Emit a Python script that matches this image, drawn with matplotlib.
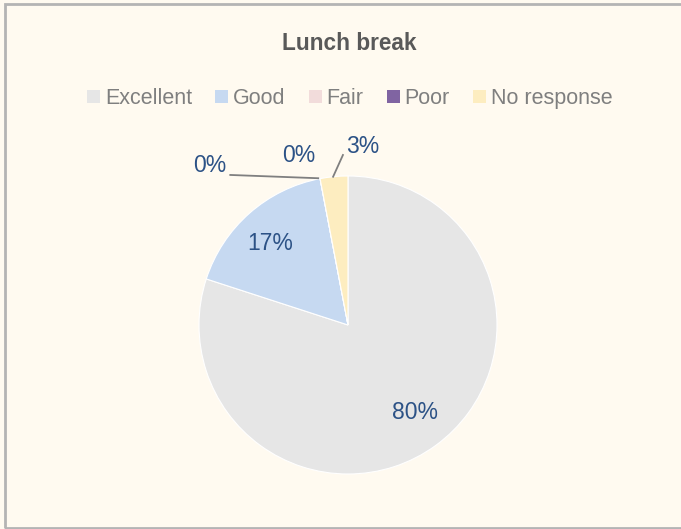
import numpy as np
import matplotlib.pyplot as plt
from matplotlib.patches import Rectangle

categories = ["Excellent", "Good", "Fair", "Poor", "No response"]
values = [80, 17, 0, 0, 3]
colors = ["#e6e6e6", "#c6d9f1", "#f2dcdb", "#8064a2", "#fdedc0"]
title = "Lunch break"

plt.rcParams['font.family'] = ['Liberation Sans', 'DejaVu Sans']
label_color = "#2c5286"
bg = "#fffaf0"

W, H = 681, 529
fig = plt.figure(figsize=(6.81, 5.29), dpi=100, facecolor=bg)
# pie axes: centre (348, 325), radius 149 px
cx, cy, r = 348, 325, 149
ax = fig.add_axes([(cx - r) / W, 1 - (cy + r) / H, 2 * r / W, 2 * r / H])
ax.set_facecolor(bg)

wedges, _ = ax.pie(values, colors=colors, startangle=90, counterclock=False,
                   radius=1.0, wedgeprops=dict(linewidth=0.8, edgecolor="white"))
ax.set_xlim(-1, 1)
ax.set_ylim(-1, 1)
ax.set_aspect("equal")

total = float(sum(values))
pct = [v / total * 100 for v in values]

# labels for the two big slices sit inside
for i, (dx, dy) in {0: (0.45, -0.59), 1: (-0.52, 0.55)}.items():
    ax.text(dx, dy, "%d%%" % round(pct[i]), ha="center", va="center",
            fontsize=16.5, color=label_color)

# small slices: labels outside with leader lines
ax.text(-0.93, 1.07, "%d%%" % round(pct[2]), ha="center", va="center",
        fontsize=16.5, color=label_color)
ax.plot([-0.79, -0.20], [1.007, 0.985], color="#7f7f7f", lw=1.3, clip_on=False)
ax.text(-0.33, 1.14, "%d%%" % round(pct[3]), ha="center", va="center",
        fontsize=16.5, color=label_color)
ax.text(0.10, 1.20, "%d%%" % round(pct[4]), ha="center", va="center",
        fontsize=16.5, color=label_color)
ax.plot([-0.034, -0.10], [1.141, 0.995], color="#7f7f7f", lw=1.3, clip_on=False)

fig.text(349 / W, 1 - 50 / H, title, ha="center", va="baseline", fontsize=16.3,
         fontweight="bold", color="#595959")

# legend drawn by hand so all labels share one baseline
renderer = fig.canvas.get_renderer()
x = 87
for cat, col in zip(categories, colors):
    fig.patches.append(Rectangle((x / W, 1 - 103 / H), 13 / W, 13 / H,
                                 transform=fig.transFigure, facecolor=col, edgecolor="none"))
    t = fig.text((x + 18) / W, 1 - 104 / H, cat, ha="left", va="baseline",
                 fontsize=15.5, color="#7f7f7f")
    w = t.get_window_extent(renderer).width
    x = x + 18 + w + 23

fig.patches.append(Rectangle((5 / W, 1 / H), 1.2, 1 - 5 / H, transform=fig.transFigure,
                             fill=False, edgecolor="#b4b4b4", lw=2))

fig.savefig("out.png", dpi=100, facecolor=bg)
